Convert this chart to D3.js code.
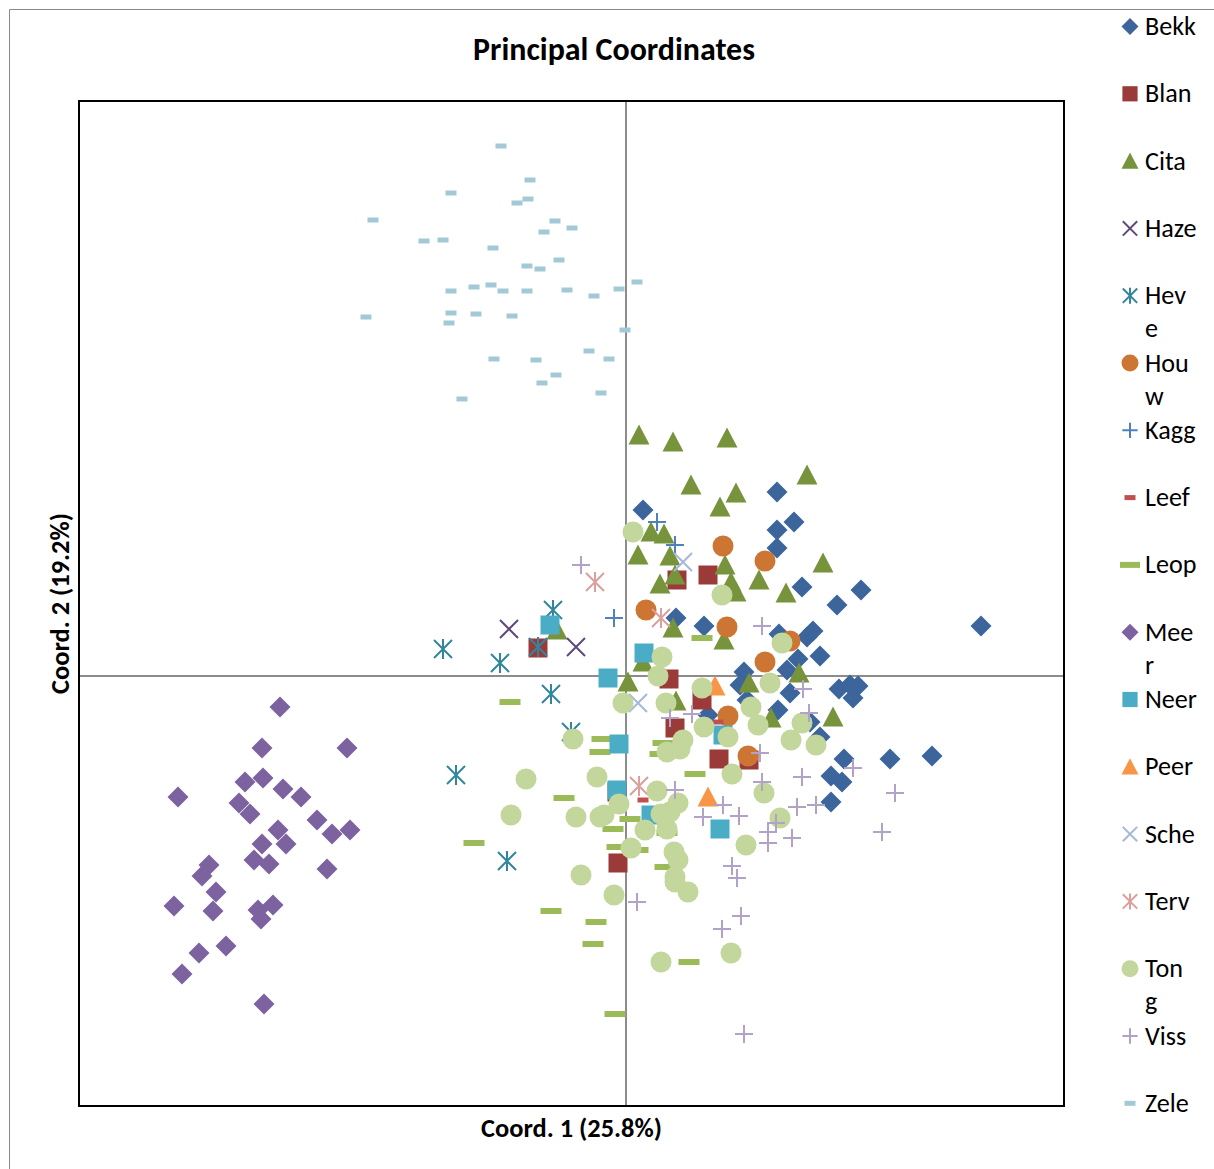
<!DOCTYPE html>
<html><head><meta charset="utf-8">
<script src="https://cdn.jsdelivr.net/npm/d3@7"></script>
<style>body{margin:0;background:#fff}svg{display:block}</style>
</head><body>
<svg id="c" width="1214" height="1169"></svg>
<script>
// ---------------- DATA ----------------
const seriesNames = ["Bekk","Blan","Cita","Haze","Heve","Houw","Kagg","Leef","Leop","Meer","Neer","Peer","Sche","Terv","Tong","Viss","Zele"];
const legendLabels = [["Bekk"],["Blan"],["Cita"],["Haze"],["Hev","e"],["Hou","w"],["Kagg"],["Leef"],["Leop"],["Mee","r"],["Neer"],["Peer"],["Sche"],["Terv"],["Ton","g"],["Viss"],["Zele"]];
const titleText = "Principal Coordinates";
const xLabel = "Coord. 1 (25.8%)";
const yLabel = "Coord. 2 (19.2%)";
const xDomain = [-5.47, 4.38];
const yDomain = [-4.30, 5.75];

const bekk = [[0.17,1.66],[1.51,1.84],[1.68,1.54],[1.51,1.46],[1.51,1.28],[1.76,0.89],[2.11,0.71],[2.35,0.86],[0.50,0.58],[0.78,0.50],[1.53,0.42],[1.81,0.39],[1.87,0.45],[1.94,0.20],[1.72,0.17],[1.61,0.06],[1.18,0.04],[1.14,-0.09],[2.13,-0.13],[2.24,-0.09],[2.32,-0.10],[2.27,-0.22],[1.64,-0.17],[1.21,-0.24],[1.52,-0.34],[0.82,-0.39],[1.84,-0.46],[1.94,-0.61],[2.18,-0.83],[2.64,-0.83],[3.06,-0.80],[2.05,-1.00],[2.16,-1.06],[2.05,-1.26],[3.55,0.50]];
const blan = [[0.82,1.01],[0.51,0.96],[-0.88,0.28],[0.43,-0.03],[0.76,-0.24],[0.49,-0.52],[0.93,-0.83],[1.23,-0.84],[-0.09,-1.16],[-0.08,-1.87]];
const cita = [[0.13,2.41],[0.47,2.34],[1.01,2.38],[1.81,2.01],[0.65,1.91],[1.10,1.83],[0.94,1.69],[0.25,1.44],[0.38,1.42],[0.12,1.21],[0.44,1.20],[0.99,1.11],[1.97,1.13],[0.49,1.01],[0.34,0.92],[1.05,0.94],[1.10,0.84],[1.33,0.96],[1.60,0.83],[0.47,0.48],[0.98,0.36],[1.73,0.03],[1.23,-0.07],[2.07,-0.41],[0.50,-0.25],[1.45,-0.42],[-0.69,0.46],[0.02,-0.06],[0.17,0.14]];
const haze = [[-1.17,0.47],[-0.50,0.29]];
const heve = [[-1.83,0.27],[-1.26,0.13],[-0.73,0.66],[-0.88,0.29],[-0.75,-0.18],[-1.70,-0.99],[-0.55,-0.56],[-1.19,-1.85]];
const houw = [[0.97,1.30],[1.39,1.15],[0.20,0.66],[1.01,0.49],[1.64,0.35],[1.39,0.14],[1.02,-0.40],[1.22,-0.80]];
const kagg = [[0.31,1.54],[0.49,1.31],[-0.12,0.58]];
const leef = [[0.17,-1.24],[0.92,-0.46]];
const leop = [[-1.16,-0.26],[0.76,0.38],[-0.24,-0.63],[-0.26,-0.76],[-0.62,-1.22],[0.04,-1.43],[-0.13,-1.53],[-0.09,-1.71],[-1.52,-1.67],[0.37,-0.67],[0.34,-0.78],[0.69,-0.98],[0.41,-1.57],[0.12,-1.74],[0.39,-1.91],[-0.75,-2.35],[-0.30,-2.46],[-0.33,-2.68],[0.63,-2.86],[-0.11,-3.38]];
const meer = [[-3.46,-0.31],[-3.64,-0.72],[-2.79,-0.72],[-3.81,-1.06],[-3.63,-1.02],[-3.43,-1.13],[-3.25,-1.21],[-4.48,-1.21],[-3.87,-1.27],[-3.76,-1.38],[-3.09,-1.44],[-2.94,-1.58],[-2.76,-1.54],[-3.48,-1.54],[-3.40,-1.68],[-3.64,-1.68],[-3.72,-1.84],[-3.57,-1.88],[-4.17,-1.89],[-4.24,-2.00],[-2.99,-1.93],[-4.10,-2.16],[-4.52,-2.30],[-4.13,-2.35],[-3.53,-2.29],[-3.68,-2.34],[-3.65,-2.43],[-4.00,-2.70],[-4.27,-2.77],[-4.44,-2.98],[-3.62,-3.28]];
const neer = [[-0.76,0.51],[-0.18,-0.02],[0.18,0.23],[-0.07,-0.68],[-0.09,-1.14],[0.25,-1.39],[0.97,-0.59],[0.94,-1.53]];
const peer = [[0.89,-0.10],[0.82,-1.21]];
const sche = [[0.57,1.14],[0.12,-0.27]];
const terv = [[-0.31,0.94],[0.35,0.58],[0.13,-1.10]];
const tong = [[0.07,1.44],[0.96,0.81],[1.56,0.33],[0.36,0.19],[0.32,0.00],[0.76,-0.12],[1.44,-0.07],[0.40,-0.27],[1.25,-0.31],[1.76,-0.47],[-0.03,-0.27],[0.78,-0.51],[0.57,-0.64],[0.41,-0.76],[0.54,-0.73],[1.02,-0.61],[1.32,-0.49],[1.65,-0.64],[1.90,-0.69],[-0.29,-1.01],[1.06,-0.98],[1.38,-1.17],[0.31,-1.15],[0.52,-1.27],[0.44,-1.36],[0.35,-1.38],[-0.07,-1.28],[-0.26,-1.41],[0.19,-1.54],[0.41,-1.53],[0.05,-1.72],[0.48,-1.76],[0.52,-1.84],[1.20,-1.69],[0.49,-2.01],[-0.45,-1.99],[-0.53,-0.63],[-1.00,-1.03],[-1.15,-1.39],[-0.50,-1.41],[-0.22,-1.39],[1.54,-1.42],[-0.12,-2.19],[0.49,-2.06],[0.62,-2.16],[0.35,-2.86],[1.05,-2.77]];
const viss = [[-0.45,1.11],[1.36,0.50],[1.77,-0.13],[1.83,-0.37],[0.66,-0.38],[0.44,-0.42],[1.34,-0.77],[1.36,-1.06],[1.76,-1.01],[2.27,-0.92],[2.69,-1.17],[0.49,-1.14],[0.97,-1.29],[1.13,-1.40],[0.77,-1.41],[1.71,-1.31],[1.90,-1.29],[2.56,-1.56],[1.50,-1.47],[1.42,-1.56],[1.42,-1.67],[1.66,-1.62],[1.06,-1.90],[1.11,-2.02],[0.11,-2.26],[1.15,-2.40],[0.96,-2.53],[1.18,-3.58]];
const zele = [[-1.25,5.30],[-0.96,4.96],[-1.75,4.83],[-1.09,4.73],[-0.98,4.77],[-2.53,4.56],[-0.71,4.55],[-0.54,4.48],[-0.82,4.44],[-2.02,4.35],[-1.83,4.36],[-1.33,4.28],[-0.67,4.16],[-0.99,4.10],[-0.86,4.07],[-1.75,3.85],[-1.52,3.89],[-1.35,3.91],[-1.23,3.85],[-0.99,3.85],[-0.59,3.86],[-0.32,3.80],[-0.07,3.87],[0.11,3.94],[-2.60,3.59],[-1.75,3.63],[-1.50,3.62],[-1.14,3.60],[-1.77,3.53],[-0.01,3.46],[-0.37,3.25],[-0.17,3.17],[-1.32,3.17],[-0.90,3.16],[-0.70,3.01],[-0.84,2.93],[-0.25,2.83],[-1.64,2.77]];

const seriesData = [bekk,blan,cita,haze,heve,houw,kagg,leef,leop,meer,neer,peer,sche,terv,tong,viss,zele];

// ---------------- STYLE ----------------
const colors = ["#3C659B","#9A3B39","#77933C","#5F497A","#31859C","#CD7633","#4F81BD","#C0504D","#9BBB59","#7D62A0","#4BACC6","#F79646","#A5B8DA","#DB9F9C","#C3D69B","#B3A2C7","#A3C9D7"];
const shapes = ["diamond","square","triangle","x","star","circle","plus","dashS","dashL","diamond","square","triangle","x","star","circle","plus","dashS"];

function symType(kind){
  return {draw(ctx, size){
    const r = size/2;
    switch(kind){
      case "diamond": ctx.moveTo(0,-r); ctx.lineTo(r,0); ctx.lineTo(0,r); ctx.lineTo(-r,0); ctx.closePath(); break;
      case "square": ctx.rect(-r*0.95,-r*0.95,r*1.9,r*1.9); break;
      case "triangle": ctx.moveTo(0,-r); ctx.lineTo(r,r*0.9); ctx.lineTo(-r,r*0.9); ctx.closePath(); break;
      case "circle": ctx.moveTo(r,0); ctx.arc(0,0,r,0,2*Math.PI); break;
      case "x": { const a=r*0.9; ctx.moveTo(-a,-a); ctx.lineTo(a,a); ctx.moveTo(a,-a); ctx.lineTo(-a,a); break; }
      case "star": { const a=r*0.9; ctx.moveTo(-a,-a); ctx.lineTo(a,a); ctx.moveTo(a,-a); ctx.lineTo(-a,a); ctx.moveTo(0,-r); ctx.lineTo(0,r); break; }
      case "plus": { const a=r*0.9; ctx.moveTo(-a,0); ctx.lineTo(a,0); ctx.moveTo(0,-a); ctx.lineTo(0,a); break; }
      case "dashL": { const w=r, h=3; ctx.rect(-w,-h,2*w,2*h); break; }
      case "dashS": { const w=r*0.55, h=2.5; ctx.rect(-w,-h,2*w,2*h); break; }
    }
  }};
}
const stroked = k => (k==="x"||k==="star"||k==="plus");

// ---------------- CHART ----------------
const svg = d3.select("#c");
const font = "Carlito, Calibri, Lato, 'Open Sans', sans-serif";
const plot = {l:79, r:1064, t:101, b:1106};
const x = d3.scaleLinear().domain(xDomain).range([plot.l, plot.r]);
const y = d3.scaleLinear().domain(yDomain).range([plot.b, plot.t]);

svg.append("rect").attr("width",1214).attr("height",1169).attr("fill","#fff");
svg.append("path").attr("d","M9.5,1169V9.5H1214").attr("fill","none").attr("stroke","#8a8a8a").attr("stroke-width",1);

svg.append("line").attr("x1",x(0)).attr("x2",x(0)).attr("y1",plot.t).attr("y2",plot.b).attr("stroke","#8c8c8c").attr("stroke-width",2);
svg.append("line").attr("x1",plot.l).attr("x2",plot.r).attr("y1",y(0)).attr("y2",y(0)).attr("stroke","#8c8c8c").attr("stroke-width",2);

const markerW = {diamond:21, square:20, triangle:21, circle:21, x:20, star:20, plus:20, dashL:21, dashS:20};
const gPts = svg.append("g");
seriesData.forEach((pts,i)=>{
  const k = shapes[i];
  const sym = d3.symbol().type(symType(k)).size(markerW[k]);
  const g = gPts.append("g");
  g.selectAll("path").data(pts).join("path")
    .attr("transform", d=>`translate(${x(d[0])},${y(d[1])})`)
    .attr("d", sym)
    .attr("fill", stroked(k) ? "none" : colors[i])
    .attr("stroke", stroked(k) ? colors[i] : "none")
    .attr("stroke-width", stroked(k) ? 2 : 0);
});

svg.append("rect").attr("x",plot.l).attr("y",plot.t).attr("width",plot.r-plot.l).attr("height",plot.b-plot.t)
  .attr("fill","none").attr("stroke","#000").attr("stroke-width",2);

function fit(sel, target){
  const w = sel.node().getComputedTextLength();
  const fs = parseFloat(sel.attr("font-size"));
  sel.attr("font-size", fs*target/w);
}
const title = svg.append("text").attr("x",614).attr("y",59.5).attr("text-anchor","middle")
  .attr("font-family",font).attr("font-weight","bold").attr("font-size",24).attr("fill","#000").text(titleText);
fit(title, 282);
const xl = svg.append("text").attr("x",571.5).attr("y",1137).attr("text-anchor","middle")
  .attr("font-family",font).attr("font-weight","bold").attr("font-size",21).attr("fill","#000").text(xLabel);
fit(xl, 181);
const yl = svg.append("text").attr("transform","translate(69,603.5) rotate(-90)").attr("text-anchor","middle")
  .attr("font-family",font).attr("font-weight","bold").attr("font-size",21).attr("fill","#000").text(yLabel);
fit(yl, 181);

const lg = svg.append("g");
const legMarkerW = {diamond:17, square:16, triangle:17, circle:17, x:16, star:16, plus:17, dashL:20, dashS:20};
const probe = lg.append("text").attr("font-family",font).attr("font-size",22).text("Bekk");
fit(probe, 51);
const legFs = parseFloat(probe.attr("font-size"));
probe.remove();
seriesNames.forEach((name,i)=>{
  const cy = 26.5 + i*67.3;
  const k = shapes[i];
  lg.append("path").attr("transform",`translate(1130,${cy})`)
    .attr("d", d3.symbol().type(symType(k)).size(legMarkerW[k]))
    .attr("fill", stroked(k) ? "none" : colors[i])
    .attr("stroke", stroked(k) ? colors[i] : "none")
    .attr("stroke-width", stroked(k) ? 2 : 0);
  const t = lg.append("text").attr("font-family",font).attr("font-size",legFs).attr("fill","#000");
  legendLabels[i].forEach((ln,j)=>{
    t.append("tspan").attr("x",1145).attr("y",cy+8.5+j*33).text(ln);
  });
});
</script>
</body></html>
